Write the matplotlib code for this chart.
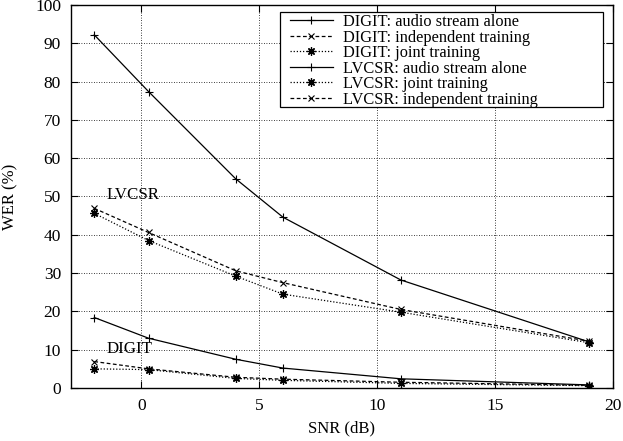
import matplotlib
matplotlib.use("Agg")
import matplotlib.pyplot as plt
from matplotlib.patches import Rectangle

plt.rcParams['font.family'] = ['Liberation Serif', 'DejaVu Serif']
plt.rcParams['font.size'] = 12

snr = [-2, 0.3, 4, 6, 11, 19]

digit_audio = [18.4, 13.0, 7.5, 5.2, 2.4, 0.8]
digit_indep = [6.9, 5.0, 2.8, 2.3, 1.5, 0.7]
digit_joint = [5.0, 4.8, 2.5, 2.0, 1.2, 0.6]
lvcsr_audio = [92.2, 77.4, 54.6, 44.6, 28.2, 12.0]
lvcsr_joint = [45.6, 38.5, 29.2, 24.5, 19.8, 11.8]
lvcsr_indep = [46.9, 40.6, 30.6, 27.5, 20.5, 12.2]

star = (8, 2, 0)

fig = plt.figure(figsize=(6.23, 4.41), dpi=100)
ax = fig.add_axes([0.1135, 0.1202, 0.8705, 0.8685])

lw = 0.9
ax.plot(snr, digit_audio, color='k', lw=lw, ls='-', marker='+', ms=6, mew=0.8,
        label='DIGIT: audio stream alone')
ax.plot(snr, digit_indep, color='k', lw=lw, ls=(0, (3, 2)), marker='x', ms=4.5, mew=0.8,
        label='DIGIT: independent training')
ax.plot(snr, digit_joint, color='k', lw=lw, ls=(0, (1, 1.5)), marker=star, ms=6, mew=0.9,
        label='DIGIT: joint training')
ax.plot(snr, lvcsr_audio, color='k', lw=lw, ls='-', marker='+', ms=6, mew=0.8,
        label='LVCSR: audio stream alone')
ax.plot(snr, lvcsr_joint, color='k', lw=lw, ls=(0, (1, 1.5)), marker=star, ms=6, mew=0.9,
        label='LVCSR: joint training')
ax.plot(snr, lvcsr_indep, color='k', lw=lw, ls=(0, (3, 2)), marker='x', ms=4.5, mew=0.8,
        label='LVCSR: independent training')

ax.text(-1.5, 50.3, 'LVCSR', fontsize=12.2, va='center', ha='left')
ax.text(-1.5, 10.2, 'DIGIT', fontsize=12.2, va='center', ha='left')

ax.set_xlim(-3, 20)
ax.set_ylim(0, 100)
ax.set_xticks([0, 5, 10, 15, 20])
ax.set_yticks(range(0, 101, 10))
ax.grid(True, color='k', ls=(0, (1, 2)), lw=0.6)
ax.tick_params(direction='in', top=True, right=True, length=5, width=0.8, labelsize=12.5, pad=7)
for s in ax.spines.values():
    s.set_linewidth(1.0)

ax.set_xlabel('SNR (dB)', fontsize=12)
ax.set_ylabel('WER (%)', fontsize=12)
ax.xaxis.set_label_coords(0.5, -0.084)
ax.yaxis.set_label_coords(-0.097, 0.5)

# gnuplot-style key box: wide frame drawn by hand
ax.add_patch(Rectangle((0.386, 0.7337), 0.9816 - 0.386, 0.9825 - 0.7337,
                       transform=ax.transAxes, facecolor='white', edgecolor='k',
                       lw=0.9, zorder=4.5))
leg = ax.legend(loc='upper left', bbox_to_anchor=(0.4044, 0.976), borderaxespad=0,
                fontsize=11.8, handlelength=2.62, handletextpad=0.6, labelspacing=-0.03,
                frameon=False, borderpad=0)
leg.set_zorder(5)

fig.savefig('out.png', dpi=100)
